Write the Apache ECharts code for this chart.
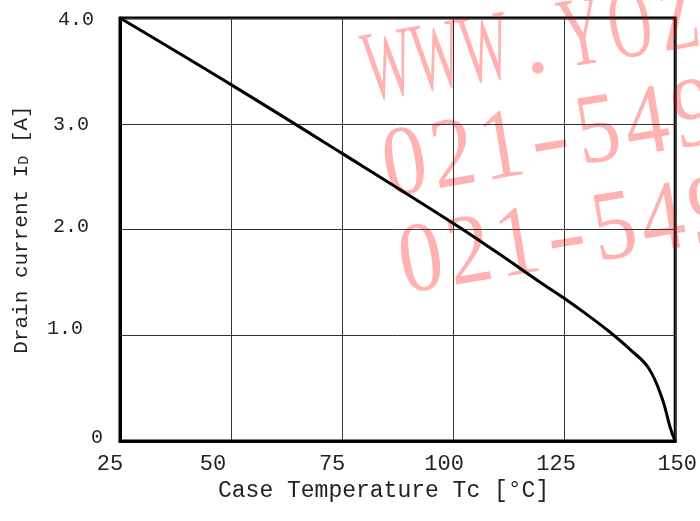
<!DOCTYPE html>
<html>
<head>
<meta charset="utf-8">
<script src="https://cdn.jsdelivr.net/npm/echarts@6/dist/echarts.min.js"></script>
<style>html,body{margin:0;padding:0;background:#fff}#c{width:700px;height:521px}</style>
</head>
<body>
<div id="c"></div>
<script>
// Data
const temps    = [25, 50, 75, 100, 110, 120, 125, 130, 135, 140, 144, 147, 149, 150];
const currents = [4.0, 3.37, 2.72, 2.06, 1.78, 1.49, 1.35, 1.20, 1.04, 0.86, 0.69, 0.41, 0.11, 0];
const xTicks = [25, 50, 75, 100, 125, 150];
const yTicks = [0, 1, 2, 3, 4];
const xName = 'Case Temperature Tc [°C]';
const yNameParts = ['Drain current I', 'D', ' [A]'];
const watermarkLines = ['WWW.YOZ', '021-549', '021-549'];

const FONT = '"Liberation Mono", "DejaVu Sans Mono", monospace';
const chart = echarts.init(document.getElementById('c'), null, {renderer: 'canvas'});

// per-label nudges (padding) to follow the reference's slightly irregular label placement
const xPad = {25: [0, 20, 0, 0], 50: [0, 36, 0, 0], 75: [0, 20, 0, 0], 100: [0, 18, 0, 0], 125: [0, 16, 0, 0], 150: [0, 0, 0, 4]};
const yPad = {0: [0, 0, 6, 0], 1: [0, 20, 14, 0], 2: [0, 14, 6, 0], 3: [2, 14, 0, 0], 4: [3, 9, 0, 0]};
const xRich = {}, yRich = {};
xTicks.forEach(v => { xRich['x' + v] = {fontFamily: FONT, fontSize: 22, color: '#222', padding: xPad[v]}; });
yTicks.forEach(v => { yRich['y' + v] = {fontFamily: FONT, fontSize: 20, color: '#222', padding: yPad[v]}; });

const scaleFor = {W: 0.52, Y: 0.62, O: 0.6, Z: 0.65, '.': 1, '-': 1.2};
const wmChildren = [];
watermarkLines.forEach((line, k) => {
  Array.from(line).forEach((ch, i) => {
    wmChildren.push({
      type: 'text',
      x: i * 49,
      y: k * 98 - 35,
      scaleX: scaleFor[ch] !== undefined ? scaleFor[ch] : 0.88,
      silent: true,
      style: {
        text: ch,
        font: '100px "Liberation Serif", "DejaVu Serif", serif',
        fill: 'rgba(255,0,0,0.3)',
        textAlign: 'center',
        textVerticalAlign: 'middle'
      }
    });
  });
});

chart.setOption({
  animation: false,
  backgroundColor: '#fff',
  grid: {left: 120, right: 23, top: 18, bottom: 80, show: true, borderWidth: 3, borderColor: '#000', backgroundColor: 'transparent'},
  xAxis: {
    type: 'value', min: 25, max: 150, interval: 25,
    name: xName, nameLocation: 'middle', nameGap: 36,
    nameTextStyle: {fontFamily: FONT, fontSize: 23, color: '#222', padding: [0, 28, 0, 0]},
    axisLine: {show: true, lineStyle: {color: '#000', width: 3}},
    axisTick: {show: false},
    axisLabel: {
      fontFamily: FONT, fontSize: 22, color: '#222', margin: 12, rich: xRich,
      formatter: v => '{x' + v + '|' + v + '}'
    },
    splitLine: {show: true, lineStyle: {color: '#333', width: 1}}
  },
  yAxis: {
    type: 'value', min: 0, max: 4, interval: 1,
    name: '{a|' + yNameParts[0] + '}{s|' + yNameParts[1] + '}{a|' + yNameParts[2] + '}',
    nameLocation: 'middle', nameGap: 88, nameRotate: 90,
    nameTextStyle: {
      fontFamily: FONT, fontSize: 21, color: '#222',
      rich: {
        a: {fontFamily: FONT, fontSize: 21, color: '#222'},
        s: {fontFamily: FONT, fontSize: 15, color: '#222', verticalAlign: 'bottom'}
      }
    },
    axisLine: {show: true, lineStyle: {color: '#000', width: 3}},
    axisTick: {show: false},
    axisLabel: {
      fontFamily: FONT, fontSize: 20, color: '#222', margin: 17, rich: yRich,
      formatter: v => '{y' + v + '|' + (v === 0 ? '0' : v.toFixed(1)) + '}'
    },
    splitLine: {show: true, lineStyle: {color: '#333', width: 1}}
  },
  series: [{
    type: 'line',
    data: temps.map((t, i) => [t, currents[i]]),
    showSymbol: false,
    smooth: 0.4,
    lineStyle: {color: '#000', width: 3},
    z: 5
  }],
  graphic: [{
    type: 'group',
    x: 395, y: 105,
    rotation: 9.5 * Math.PI / 180,
    z: 100,
    silent: true,
    children: wmChildren
  }]
});
</script>
</body>
</html>
